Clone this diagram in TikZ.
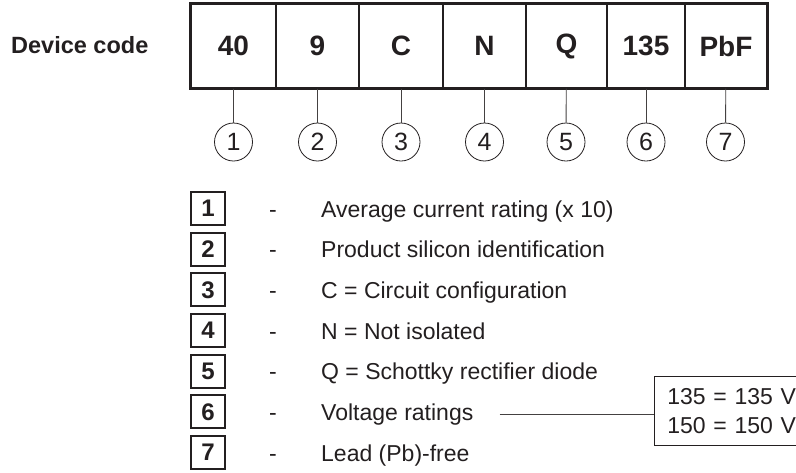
\documentclass[tikz,border=0pt]{standalone}
\usepackage{fontspec}
\setmainfont{Liberation Sans}
\usepackage{tikz}
\usetikzlibrary{positioning}
\definecolor{ink}{HTML}{231F20}
\newcommand{\fs}[1]{\fontsize{#1}{#1}\selectfont}

\begin{document}
\begin{tikzpicture}[
  x=1pt, y=-1pt,
  every node/.style={text=ink},
  cell/.style={draw=ink, line width=1.3pt, minimum height=84pt,
    inner sep=0pt, font=\fs{28}\bfseries},
  codenum/.style={draw=ink, circle, line width=0.8pt, minimum size=38pt,
    inner sep=0pt, font=\fs{25}},
  keybox/.style={draw=ink, line width=1.8pt, minimum width=34pt,
    minimum height=33pt, inner sep=0pt, font=\fs{24}\bfseries},
  sep/.style={anchor=base, inner sep=0pt, font=\fs{23}},
  desc/.style={anchor=base west, inner sep=0pt, font=\fs{23}},
  vbox/.style={draw=ink, line width=0.8pt, anchor=north west, align=left,
    text width=150pt, inner xsep=13pt, minimum height=68.5pt,
    font=\fontsize{23}{29}\selectfont},
  link/.style={draw=ink!85, line width=0.9pt}
]
\useasboundingbox (0,0) rectangle (796,472);

% Device code row
\node[anchor=base west, inner sep=0pt, font=\fs{23.5}\bfseries] (title) at (11,53) {Device code};
\node[cell, minimum width=85pt] (c1) at (233.5,46) {40};
\node[cell, minimum width=83pt] (c2) at (317.5,46) {9};
\node[cell, minimum width=84pt] (c3) at (401,46) {C};
\node[cell, minimum width=83pt] (c4) at (484.5,46) {N};
\node[cell, minimum width=81pt] (c5) at (566.5,46) {Q};
\node[cell, minimum width=78pt] (c6) at (646,46) {135};
\node[cell, minimum width=82pt] (c7) at (726,46) {PbF};
\draw[ink, line width=2pt] (c1.north west) rectangle (c7.south east);

% Numbered circles
\node[codenum] (n1) at (233.5,142) {1};
\node[codenum] (n2) at (317.5,142) {2};
\node[codenum] (n3) at (401,142) {3};
\node[codenum] (n4) at (484.5,142) {4};
\node[codenum] (n5) at (566,142) {5};
\node[codenum] (n6) at (646,142) {6};
\node[codenum] (n7) at (725.5,142) {7};
\draw[link] (c1) -- (n1);
\draw[link] (c2) -- (n2);
\draw[link] (c3) -- (n3);
\draw[link] (c4) -- (n4);
\draw[link] (c5) -- (n5);
\draw[link] (c6) -- (n6);
\draw[link] (c7) -- (n7);

% Legend
\node[keybox] (k1) at (208,208.5) {1};
\node[keybox] (k2) at (208,249.2) {2};
\node[keybox] (k3) at (208,289.8) {3};
\node[keybox] (k4) at (208,330.5) {4};
\node[keybox] (k5) at (208,371.2) {5};
\node[keybox] (k6) at (208,411.8) {6};
\node[keybox] (k7) at (208,452.5) {7};

\node[sep] (s1) at (273,217) {-};
\node[sep] (s2) at (273,257.7) {-};
\node[sep] (s3) at (273,298.3) {-};
\node[sep] (s4) at (273,339) {-};
\node[sep] (s5) at (273,379.7) {-};
\node[sep] (s6) at (273,420.3) {-};
\node[sep] (s7) at (273,461) {-};

\node[desc] (d1) at (321,217) {Average current rating (x 10)};
\node[desc] (d2) at (321,257.7) {Product silicon identification};
\node[desc] (d3) at (321,298.3) {C = Circuit configuration};
\node[desc] (d4) at (321,339) {N = Not isolated};
\node[desc] (d5) at (321,379.7) {Q = Schottky rectifier diode};
\node[desc] (d6) at (321,420.3) {Voltage ratings};
\node[desc] (d7) at (321,461) {Lead (Pb)-free};

% Voltage options
\node[vbox] (volt) at (654,376) {135 = 135 V\\150 = 150 V};
\draw[link] ([xshift=26pt]d6.east) -- (volt.west |- d6.east);

\end{tikzpicture}
\end{document}
